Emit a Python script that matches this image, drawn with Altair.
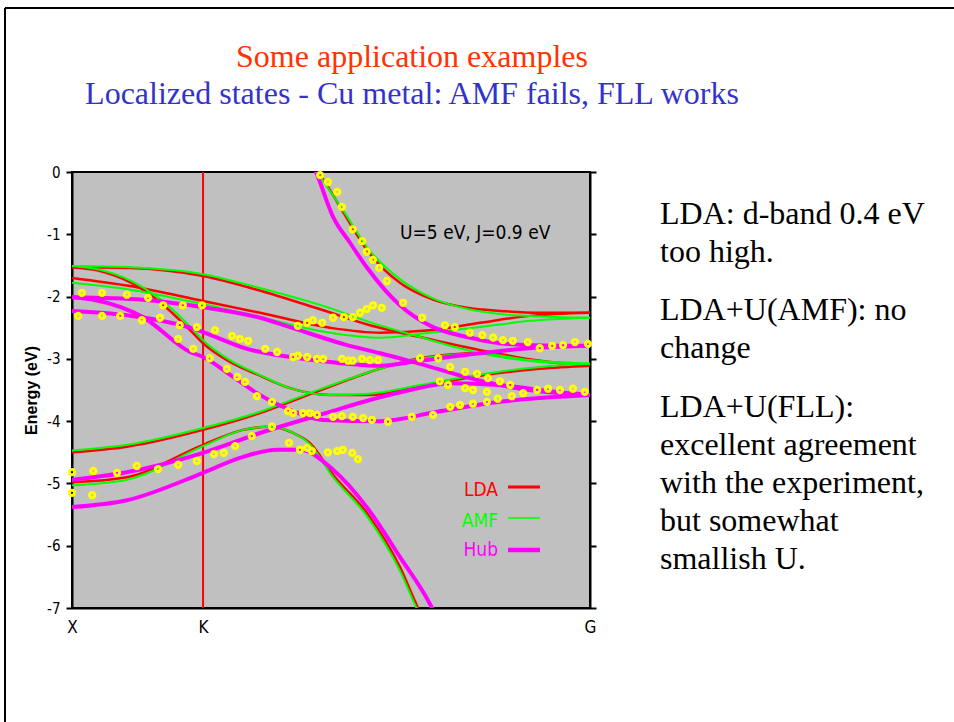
import altair as alt
import pandas as pd

# ---------------- data (k = fraction of the X-K-G path, E in eV) ----------------
X_TICKS = [0.0, 0.253, 1.0]
X_LABELS = ["X", "K", "G"]
Y_TICKS = [0, -1, -2, -3, -4, -5, -6, -7]

METHODS = ["LDA", "AMF", "Hub"]
COLORS = ["#ff0000", "#00ff00", "#ff00ff"]

K_A = [0, 0.112, 0.253, 0.357, 0.485, 0.575, 0.672, 0.788, 0.903, 1.0]
LDA_A = [-1.53, -1.54, -1.67, -1.89, -2.22, -2.46, -2.65, -2.86, -3.03, -3.11]
AMF_A = [-1.51, -1.53, -1.64, -1.85, -2.15, -2.41, -2.65, -2.91, -3.05, -3.08]

K_B = [0, 0.112, 0.253, 0.363, 0.498, 0.595, 0.691, 0.788, 0.884, 1.0]
LDA_B = [-1.70, -1.83, -2.07, -2.26, -2.50, -2.58, -2.54, -2.42, -2.31, -2.26]
AMF_B = [-1.78, -1.89, -2.12, -2.33, -2.58, -2.66, -2.58, -2.49, -2.39, -2.34]

K_C = [0, 0.054, 0.112, 0.170, 0.228, 0.253, 0.305, 0.363, 0.421, 0.498, 0.575, 0.672, 0.788, 0.903, 1.0]
LDA_C = [-1.53, -1.59, -1.77, -2.09, -2.54, -2.75, -3.05, -3.27, -3.47, -3.58, -3.58, -3.44, -3.27, -3.16, -3.11]
AMF_C = [-1.51, -1.57, -1.74, -2.04, -2.48, -2.70, -3.02, -3.26, -3.47, -3.58, -3.56, -3.42, -3.25, -3.13, -3.08]

K_D = [0, 0.106, 0.253, 0.363, 0.465, 0.575, 0.672, 0.788, 0.884, 1.0]
LDA_D = [-4.50, -4.41, -4.14, -3.87, -3.55, -3.21, -2.99, -2.91, -3.02, -3.11]
AMF_D = [-4.47, -4.38, -4.11, -3.85, -3.53, -3.21, -3.00, -2.92, -3.02, -3.08]

K_E = [0, 0.106, 0.253, 0.330, 0.382, 0.427, 0.459, 0.504, 0.569, 0.633, 0.668, 0.681]
LDA_E = [-4.98, -4.90, -4.38, -4.14, -4.09, -4.19, -4.35, -4.86, -5.47, -6.34, -7.0, -7.22]
AMF_E = [-5.03, -4.94, -4.40, -4.14, -4.09, -4.19, -4.37, -4.90, -5.52, -6.40, -7.05, -7.25]

K_S = [0.465, 0.475, 0.498, 0.527, 0.569, 0.633, 0.697, 0.763, 0.826, 0.903, 1.0]
LDA_S = [0.13, 0.0, -0.29, -0.69, -1.25, -1.78, -2.05, -2.18, -2.23, -2.26, -2.26]
AMF_S = [0.12, -0.02, -0.30, -0.66, -1.20, -1.72, -2.03, -2.20, -2.28, -2.32, -2.34]

HUB_S_K = [0.465, 0.471, 0.504, 0.537, 0.569, 0.633, 0.697, 0.763, 0.826, 0.890, 1.0]
HUB_S = [0.11, 0.0, -0.72, -1.14, -1.53, -2.14, -2.49, -2.65, -2.75, -2.78, -2.79]

HUB_A_K = [0, 0.137, 0.253, 0.363, 0.421, 0.531, 0.595, 0.672, 0.768, 0.865, 1.0]
HUB_A = [-2.01, -2.05, -2.17, -2.34, -2.49, -2.78, -2.91, -3.08, -3.31, -3.48, -3.58]

HUB_B_K = [0, 0.106, 0.228, 0.253, 0.338, 0.421, 0.498, 0.595, 0.672, 0.788, 0.884, 1.0]
HUB_B = [-2.23, -2.30, -2.50, -2.57, -2.84, -2.97, -3.05, -3.11, -3.03, -2.91, -2.83, -2.79]

HUB_C_K = [0, 0.041, 0.137, 0.228, 0.253, 0.311, 0.357, 0.421, 0.485, 0.595, 0.705, 0.826, 1.0]
HUB_C = [-2.01, -2.05, -2.33, -2.89, -2.97, -3.29, -3.55, -3.82, -3.98, -4.00, -3.85, -3.69, -3.58]

HUB_D_K = [0, 0.106, 0.253, 0.363, 0.498, 0.575, 0.653, 0.730, 0.826, 0.923, 1.0]
HUB_D = [-4.94, -4.82, -4.51, -4.19, -3.85, -3.66, -3.50, -3.39, -3.42, -3.52, -3.58]

HUB_E_K = [0, 0.106, 0.253, 0.324, 0.396, 0.440, 0.504, 0.569, 0.633, 0.695, 0.710]
HUB_E = [-5.38, -5.27, -4.83, -4.59, -4.46, -4.46, -4.78, -5.38, -6.18, -7.0, -7.27]

# experimental points
EXP_K = [0.019, 0.058, 0.106, 0.147, 0.176, 0.214, 0.251, 0.012, 0.058, 0.093, 0.135, 0.170, 0.208,
         0.241, 0.276, 0.309, 0.324, 0.340, 0.373, 0.396, 0.427, 0.436, 0.454, 0.473, 0.485, 0.521,
         0.533, 0.542, 0.560, 0.575, 0.591, 0.205, 0.234, 0.266, 0.299, 0.319, 0.334, 0.436, 0.454,
         0.465, 0.483, 0.504, 0.525, 0.542, 0.556, 0.569, 0.581, 0.598, 0.639, 0.676,
         0.479, 0.494, 0.512, 0.521, 0.542, 0.560, 0.569, 0.581, 0.593, 0.608,
         0.720, 0.739, 0.768, 0.792, 0.813, 0.832, 0.851, 0.880, 0.903, 0.927, 0.948, 0.971, 0.996,
         0.672, 0.707, 0.730, 0.759, 0.782, 0.803, 0.826, 0.710, 0.726, 0.759, 0.774, 0.801, 0.846,
         0.871, 0.898, 0.919, 0.942, 0.967, 0.990,
         0.656, 0.697, 0.730, 0.749, 0.774, 0.801, 0.822, 0.849,
         0.446, 0.459, 0.504, 0.521, 0.542, 0.562, 0.579, 0.610, 0.357, 0.386, 0.417, 0.427, 0.473,
         0.0, 0.0, 0.041, 0.039, 0.087, 0.125, 0.166, 0.205, 0.241, 0.274, 0.293, 0.315, 0.347, 0.386,
         0.419, 0.440, 0.454, 0.463, 0.494, 0.512, 0.523, 0.541, 0.552]
EXP_E = [-1.94, -1.94, -1.97, -2.02, -2.14, -2.14, -2.14, -2.31, -2.31, -2.31, -2.38, -2.34, -2.46,
         -2.49, -2.54, -2.63, -2.68, -2.71, -2.84, -2.89, -2.97, -2.95, -2.97, -3.00, -3.00, -3.00,
         -3.03, -3.03, -3.00, -3.02, -3.02, -2.68, -2.84, -2.99, -3.16, -3.29, -3.37, -2.47, -2.42,
         -2.38, -2.42, -2.34, -2.33, -2.33, -2.26, -2.20, -2.14, -2.18, -2.10, -2.34,
         -0.05, -0.16, -0.32, -0.56, -0.92, -1.11, -1.28, -1.41, -1.54, -1.75,
         -2.46, -2.49, -2.58, -2.62, -2.66, -2.70, -2.71, -2.73, -2.83, -2.79, -2.78, -2.73, -2.76,
         -2.99, -2.99, -3.13, -3.21, -3.24, -3.31, -3.36, -3.36, -3.42, -3.47, -3.50, -3.53, -3.42,
         -3.55, -3.50, -3.48, -3.50, -3.48, -3.53,
         -3.93, -3.90, -3.77, -3.74, -3.72, -3.69, -3.64, -3.60,
         -3.87, -3.87, -3.93, -3.92, -3.93, -3.95, -3.98, -4.01, -3.60, -3.69, -3.84, -3.87, -3.90,
         -4.82, -5.15, -4.80, -5.19, -4.83, -4.72, -4.77, -4.70, -4.64, -4.53, -4.51, -4.40, -4.24,
         -4.09, -4.35, -4.46, -4.43, -4.48, -4.50, -4.48, -4.46, -4.51, -4.61]

TITLE = "Some application examples"
SUBTITLE = "Localized states - Cu metal: AMF fails, FLL works"
ANNOT = "U=5 eV, J=0.9 eV"
NOTES = [
    ["LDA: d-band 0.4 eV", "too high."],
    ["LDA+U(AMF): no", "change"],
    ["LDA+U(FLL):", "excellent agreement", "with the experiment,", "but somewhat", "smallish U."],
]

# ---------------- build tables ----------------
rows = []
def add(method, band, ks, es):
    for k, e in zip(ks, es):
        rows.append({"method": method, "band": band, "k": k, "E": e})

add("LDA", "A", K_A, LDA_A); add("AMF", "A", K_A, AMF_A)
add("LDA", "B", K_B, LDA_B); add("AMF", "B", K_B, AMF_B)
add("LDA", "C", K_C, LDA_C); add("AMF", "C", K_C, AMF_C)
add("LDA", "D", K_D, LDA_D); add("AMF", "D", K_D, AMF_D)
add("LDA", "E", K_E, LDA_E); add("AMF", "E", K_E, AMF_E)
add("LDA", "S", K_S, LDA_S); add("AMF", "S", K_S, AMF_S)
add("Hub", "S", HUB_S_K, HUB_S)
add("Hub", "A", HUB_A_K, HUB_A)
add("Hub", "B", HUB_B_K, HUB_B)
add("Hub", "C", HUB_C_K, HUB_C)
add("Hub", "D", HUB_D_K, HUB_D)
add("Hub", "E", HUB_E_K, HUB_E)
bands = pd.DataFrame(rows)
exp = pd.DataFrame({"k": EXP_K, "E": EXP_E})

NARROW = "Liberation Sans Narrow, Arial Narrow, DejaVu Sans Condensed, Liberation Sans, sans-serif"
SERIF = "Liberation Serif, Times New Roman, serif"

xscale = alt.Scale(domain=[0, 1], nice=False, zero=False)
yscale = alt.Scale(domain=[-7, 0], nice=False, zero=False)

label_expr = "datum.value < {:.3f} ? '{}' : datum.value < {:.3f} ? '{}' : '{}'".format(
    (X_TICKS[0] + X_TICKS[1]) / 2, X_LABELS[0], (X_TICKS[1] + X_TICKS[2]) / 2, X_LABELS[1], X_LABELS[2])

x_axis = alt.Axis(values=X_TICKS, labelExpr=label_expr, ticks=False, tickSize=0, grid=False,
                  domainColor="black", domainWidth=2, labelFont=NARROW, labelFontSize=17,
                  labelColor="black", labelPadding=11, labelFlush=False, labelOverlap=False,
                  title=None)
y_axis_left = alt.Axis(values=Y_TICKS, labelExpr="toString(datum.value)", tickSize=6, tickWidth=2,
                       tickColor="black", domainColor="black", domainWidth=2, grid=False,
                       labelFont=NARROW, labelFontSize=15, labelColor="black", labelPadding=6,
                       title="Energy (eV)", titleFont="Liberation Sans", titleFontSize=16,
                       titleFontWeight="bold", titleColor="black", titlePadding=7)
y_axis_right = alt.Axis(orient="right", values=Y_TICKS, labels=False, tickSize=6, tickWidth=2,
                        tickColor="black", domainColor="black", domainWidth=2, grid=False, title=None)

k_line = alt.Chart(pd.DataFrame({"k": [X_TICKS[1]]})).mark_rule(color="#ff0000", strokeWidth=2).encode(
    x=alt.X("k:Q", scale=xscale, axis=x_axis))

widths = {"LDA": 2.5, "AMF": 2, "Hub": 4}
band_layers = []
for i, (m, c) in enumerate(zip(METHODS, COLORS)):
    layer = alt.Chart(bands).transform_filter(alt.datum.method == m).mark_line(
        color=c, strokeWidth=widths[m], clip=True, interpolate="monotone").encode(
        x=alt.X("k:Q", scale=xscale, axis=None),
        y=alt.Y("E:Q", scale=yscale, axis=y_axis_left if i == 0 else None),
        detail="band:N", order="k:Q")
    band_layers.append(layer)

dots = alt.Chart(exp).mark_point(shape="circle", filled=False, color="#ffff00", strokeWidth=3,
                                 size=28, opacity=1).encode(
    x=alt.X("k:Q", scale=xscale, axis=None),
    y=alt.Y("E:Q", scale=yscale, axis=y_axis_right))

one = alt.Data(values=[{}])

def text_layer(text, x, y, **kw):
    return alt.Chart(one).mark_text(text=text, **kw).encode(x=alt.value(x), y=alt.value(y))

def rule_layer(x, x2, y, y2, **kw):
    return alt.Chart(one).mark_rule(**kw).encode(x=alt.value(x), x2=alt.value(x2), y=alt.value(y), y2=alt.value(y2))

annot = text_layer(ANNOT, 328, 67, font=NARROW, fontSize=19, color="black", align="left", baseline="alphabetic")

legend = []
legend_widths = [3, 1.5, 4.5]
legend_text_y = [324, 355, 384]
legend_line_y = [315, 346, 378]
for i, (m, c) in enumerate(zip(METHODS, COLORS)):
    legend.append(text_layer(m, 426, legend_text_y[i], font=NARROW, fontSize=19,
                             color=c, align="right", baseline="alphabetic"))
    legend.append(rule_layer(436, 468, legend_line_y[i], legend_line_y[i], color=c,
                             strokeWidth=legend_widths[i]))

title = text_layer(TITLE, 340, -105, font=SERIF, fontSize=32, color="#ff3300", align="center", baseline="alphabetic")
subtitle = text_layer(SUBTITLE, 340, -68, font=SERIF, fontSize=32, color="#3333cc", align="center", baseline="alphabetic")

notes = []
for lines, y in zip(NOTES, [52, 148, 245]):
    notes.append(text_layer(lines, 588, y, font=SERIF, fontSize=32, color="black", align="left",
                            baseline="alphabetic", lineHeight=38))

frame = [rule_layer(-67, 882, -164, -164, color="black", strokeWidth=2),
         rule_layer(-67, -67, -164, 560, color="black", strokeWidth=2)]

chart = alt.layer(
    k_line, *band_layers, dots, annot, *legend, title, subtitle, *notes, *frame
).resolve_axis(x="independent", y="independent").properties(
    width=518, height=436,
    autosize=alt.AutoSizeParams(type="none"),
    padding={"left": 72, "top": 172, "right": 364, "bottom": 114},
    background="white",
).configure_view(fill="#c0c0c0", stroke="black", strokeWidth=2)

chart.save("out.html", embed_options={"renderer": "svg", "actions": False})
